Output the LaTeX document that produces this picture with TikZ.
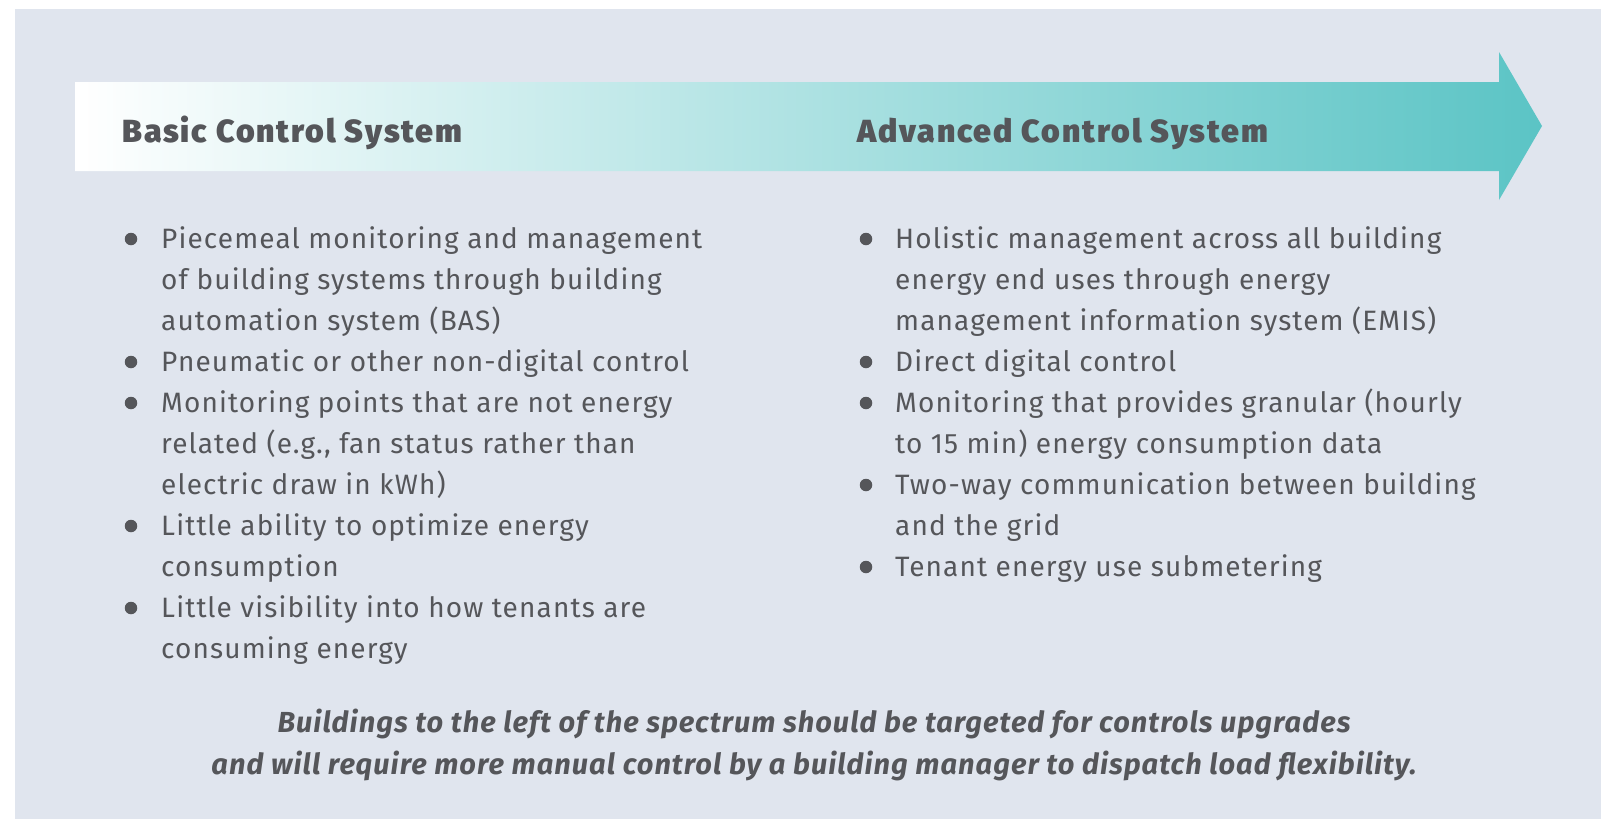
\documentclass[tikz,border=0pt]{standalone}
\usepackage{fontspec}
\setmainfont{Fira Sans}
\newfontfamily\bodyfont[LetterSpace=4]{Fira Sans}
\newfontfamily\headfont[LetterSpace=6]{Fira Sans Black}
\newfontfamily\notefont[LetterSpace=3.5]{Fira Sans}
\definecolor{panelbg}{HTML}{E0E5EE}
\definecolor{tealc}{HTML}{5BC4C5}
\definecolor{txt}{HTML}{55565A}
\tikzset{
  body/.style={anchor=base west, inner sep=0pt, text=txt, font=\bodyfont\fontsize{28}{32}\selectfont},
  head/.style={anchor=base west, inner sep=0pt, text=txt, font=\headfont\fontsize{32}{34}\selectfont},
  note/.style={anchor=base, inner sep=0pt, text=txt, font=\notefont\fontsize{29}{32}\selectfont\bfseries\itshape},
  dot/.style={circle, fill=txt, inner sep=0pt, minimum size=12.5pt}
}
\begin{document}
\begin{tikzpicture}[x=1pt,y=-1pt]
\useasboundingbox (0,0) rectangle (1609,831);
\fill[white] (0,0) rectangle (1609,831);
\fill[panelbg] (15,9) rectangle (1601,819);
\shade[left color=white, right color=tealc]
  (75,82) -- (1499,82) -- (1499,52) -- (1542,126) -- (1499,200) -- (1499,171) -- (75,171) -- cycle;
\node[head] (h1) at (122,142) {Basic Control System};
\node[head] (h2) at (857,142) {Advanced Control System};
% left column
\node[body] (l1) at (161,248) {Piecemeal monitoring and management};
\node[body] (l2) at (161,289) {of building systems through building};
\node[body] (l3) at (161,330) {automation system (BAS)};
\node[body] (l4) at (161,371) {Pneumatic or other non-digital control};
\node[body] (l5) at (161,412) {Monitoring points that are not energy};
\node[body] (l6) at (161,453) {related (e.g., fan status rather than};
\node[body] (l7) at (161,494) {electric draw in kWh)};
\node[body] (l8) at (161,535) {Little ability to optimize energy};
\node[body] (l9) at (161,576) {consumption};
\node[body] (l10) at (161,617) {Little visibility into how tenants are};
\node[body] (l11) at (161,658) {consuming energy};
\node[dot] (b1) at (131,239) {};
\node[dot] (b2) at (131,362) {};
\node[dot] (b3) at (131,403) {};
\node[dot] (b4) at (131,526) {};
\node[dot] (b5) at (131,608) {};
% right column
\node[body] (r1) at (895,248) {Holistic management across all building};
\node[body] (r2) at (895,289) {energy end uses through energy};
\node[body] (r3) at (895,330) {management information system (EMIS)};
\node[body] (r4) at (895,371) {Direct digital control};
\node[body] (r5) at (895,412) {Monitoring that provides granular (hourly};
\node[body] (r6) at (895,453) {to 15 min) energy consumption data};
\node[body] (r7) at (895,494) {Two-way communication between building};
\node[body] (r8) at (895,535) {and the grid};
\node[body] (r9) at (895,576) {Tenant energy use submetering};
\node[dot] (c1) at (866,239) {};
\node[dot] (c2) at (866,362) {};
\node[dot] (c3) at (866,403) {};
\node[dot] (c4) at (866,485) {};
\node[dot] (c5) at (866,567) {};
% note
\node[note] (n1) at (814,732) {Buildings to the left of the spectrum should be targeted for controls upgrades};
\node[note] (n2) at (814,774) {and will require more manual control by a building manager to dispatch load flexibility.};
\end{tikzpicture}
\end{document}
